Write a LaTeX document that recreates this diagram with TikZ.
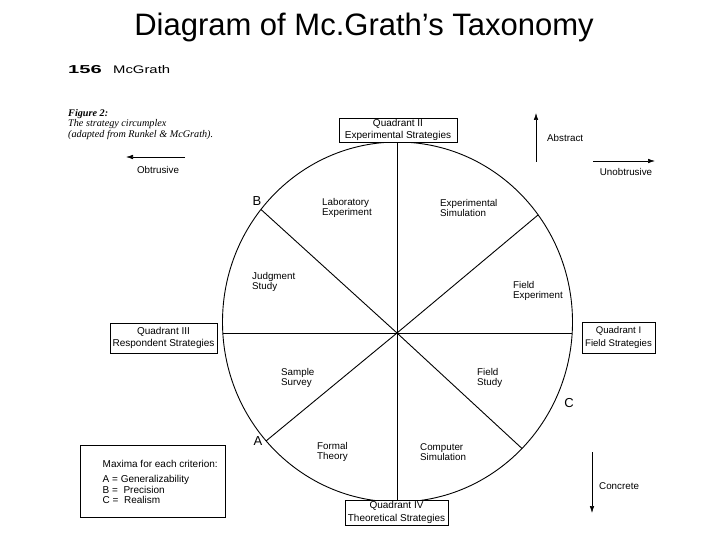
\documentclass[tikz,border=0pt]{standalone}
\usepackage{graphicx}
\usepackage{fontspec}
\setmainfont{Liberation Sans}
\newfontfamily\capfont{Liberation Serif}
\usetikzlibrary{arrows.meta}
\begin{document}
\begin{tikzpicture}[x=1pt,y=-1pt,
  qbox/.style={draw,line width=0.7pt,fill=white,align=center,inner sep=0pt,font=\fontsize{10}{12.5}\selectfont},
  sector/.style={anchor=west,align=left,inner sep=0pt,font=\fontsize{9.8}{10.5}\selectfont},
  divline/.style={line width=0.9pt},
  dirarrow/.style={line width=0.6pt,-{Latex[length=7pt,width=4.5pt]}},
  dirlabel/.style={inner sep=0pt,font=\fontsize{9.8}{10}\selectfont},
  bigletter/.style={inner sep=0pt,font=\fontsize{13}{13}\selectfont}]
\useasboundingbox (0,0) rectangle (720,540);
\fill[white] (0,0) rectangle (720,540);

% title
\node[anchor=base,inner sep=0pt,font=\fontsize{31}{31}\selectfont] (title) at (364,36) {Diagram of Mc.Grath’s Taxonomy};

% page header
\node[anchor=west,inner sep=0pt] (pg) at (68,70) {\scalebox{1.75}[1]{\fontsize{11.5}{11.5}\selectfont\bfseries 156}};
\node[anchor=west,inner sep=0pt] (auth) at (113,70) {\scalebox{1.35}[1]{\fontsize{11}{11}\selectfont McGrath}};

% caption
\node[anchor=west,align=left,inner sep=0pt,font=\capfont\itshape\fontsize{10.2}{10.2}\selectfont] (cap) at (68,124.5) {\textbf{Figure 2:}\\The strategy circumplex\\(adapted from Runkel \& McGrath).};

% circle
\draw[divline] (397.5,322) ellipse [x radius=175pt, y radius=180pt];

% quadrant boxes
\node[qbox,minimum width=118pt,minimum height=24pt] (q2) at (398,130) {Quadrant II\\Experimental Strategies};
\node[qbox,minimum width=107pt,minimum height=30pt] (q3) at (163.5,338) {Quadrant III\\Respondent Strategies};
\node[qbox,minimum width=73pt,minimum height=31pt,font=\fontsize{9.6}{12.5}\selectfont] (q1) at (618.5,337.5) {Quadrant I\\Field Strategies};
\node[qbox,minimum width=103pt,minimum height=25pt] (q4) at (396.5,512.5) {Quadrant IV\\Theoretical Strategies};

% dividing lines
\coordinate (hub) at (397,333);
\coordinate (pL) at (222.8,333);
\coordinate (pR) at (572.2,333);
\coordinate (pB) at (261,209.5);
\coordinate (pUR) at (538,215);
\coordinate (pA) at (266,441);
\coordinate (pC) at (522,448.5);
\draw[divline] (pL) -- (pR);
\draw[divline] (hub |- q2.south) -- (hub |- q4.north);
\draw[divline] (pB) -- (hub) -- (pC);
\draw[divline] (pUR) -- (hub) -- (pA);

% sector labels
\node[sector] (lab) at (322,208) {Laboratory\\Experiment};
\node[sector] (esim) at (440,208) {Experimental\\Simulation};
\node[sector] (judg) at (252,282) {Judgment\\Study};
\node[sector] (fexp) at (513,291) {Field\\Experiment};
\node[sector] (samp) at (281,378) {Sample\\Survey};
\node[sector] (fstu) at (477,378) {Field\\Study};
\node[sector] (form) at (317,452) {Formal\\Theory};
\node[sector] (comp) at (420,452) {Computer\\Simulation};

% maxima letters
\node[bigletter] (lB) at (257,201) {B};
\node[bigletter] (lA) at (258,441) {A};
\node[bigletter] (lC) at (569,403) {C};

% legend box
\node[draw,line width=0.7pt,minimum width=145pt,minimum height=72pt,inner sep=0pt] (maxbox) at (152.5,481) {};
\node[anchor=west,align=left,inner sep=0pt,font=\fontsize{10}{10.5}\selectfont] (maxtext) at (102.5,482) {Maxima for each criterion:\\[4.5pt]A = Generalizability\\B =\ \ Precision\\C =\ \ Realism};

% direction arrows
\coordinate (obS) at (185,157);
\coordinate (obE) at (126,157);
\draw[dirarrow] (obS) -- (obE);
\node[dirlabel] (obl) at (158,170) {Obtrusive};

\coordinate (abS) at (536,162);
\coordinate (abE) at (536,113);
\draw[dirarrow] (abS) -- (abE);
\node[dirlabel,anchor=west] (abl) at (547,138) {Abstract};

\coordinate (unS) at (593,161);
\coordinate (unE) at (655,161);
\draw[dirarrow] (unS) -- (unE);
\node[dirlabel] (unl) at (626,172) {Unobtrusive};

\coordinate (coS) at (592,452);
\coordinate (coE) at (592,513);
\draw[dirarrow] (coS) -- (coE);
\node[dirlabel,anchor=west] (col) at (599,486) {Concrete};
\end{tikzpicture}
\end{document}
